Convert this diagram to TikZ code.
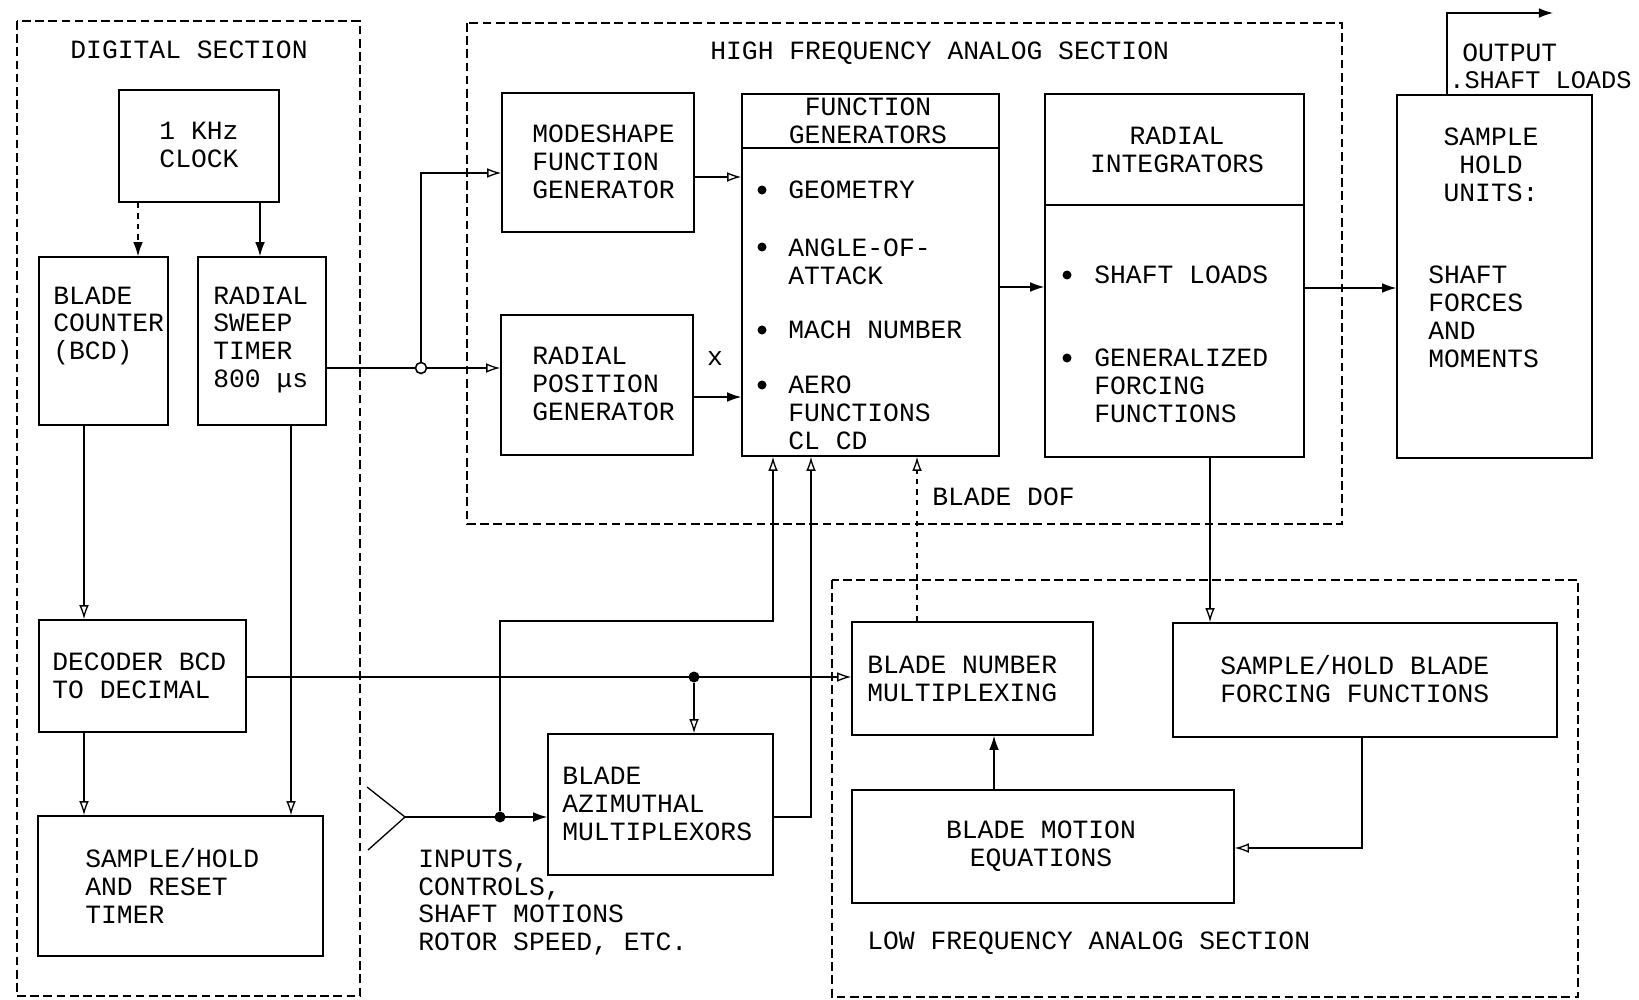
\documentclass[tikz,border=0pt]{standalone}
\usepackage{fontspec}
\setmainfont{Liberation Mono}
\usetikzlibrary{arrows.meta}
\begin{document}
\begin{tikzpicture}[x=0.02cm,y=-0.02cm,
  every node/.style={font=\fontsize{15}{15.9}\selectfont, inner sep=0pt},
  box/.style={draw, line width=0.85pt, inner sep=0pt},
  sect/.style={draw, line width=0.9pt, dash pattern=on 5pt off 2.5pt},
  wire/.style={line width=0.75pt},
  arr/.style={wire, -{Latex[length=8pt,width=5.5pt]}},
  oarr/.style={wire, -{Latex[open,length=8pt,width=5.5pt]}},
  txt/.style={align=left, anchor=west},
  ctxt/.style={align=center},
  bul/.style={circle, fill, minimum size=0.18cm},
  jdot/.style={circle, fill, minimum size=0.22cm},
  odot/.style={circle, draw, line width=0.9pt, fill=white, minimum size=0.22cm},
]
\useasboundingbox (0,0) rectangle (1639,1000);

% sections
\draw[sect] (17,21) rectangle (360,996);
\draw[sect] (467,23) rectangle (1342,524);
\draw[sect] (832,580) rectangle (1578,997);
\node[anchor=center] (tdig) at (189,50) {DIGITAL SECTION};
\node[anchor=west] (thf) at (710,53) {HIGH FREQUENCY ANALOG SECTION};
\node[anchor=west] (tlf) at (867,943) {LOW FREQUENCY ANALOG SECTION};

% boxes
\node[box, minimum width=160*0.02cm, minimum height=112*0.02cm] (clock) at (199,146) {};
\node[box, minimum width=129*0.02cm, minimum height=168*0.02cm] (bc) at (103.5,341) {};
\node[box, minimum width=128*0.02cm, minimum height=168*0.02cm] (sweep) at (262,341) {};
\node[box, minimum width=207*0.02cm, minimum height=112*0.02cm] (dec) at (142.5,676) {};
\node[box, minimum width=285*0.02cm, minimum height=140*0.02cm] (shr) at (180.5,886) {};
\node[box, minimum width=192*0.02cm, minimum height=139*0.02cm] (mode) at (598,162.5) {};
\node[box, minimum width=192*0.02cm, minimum height=140*0.02cm] (rpos) at (597,385) {};
\node[box, minimum width=257*0.02cm, minimum height=362*0.02cm] (fg) at (870.5,275) {};
\node[box, minimum width=259*0.02cm, minimum height=363*0.02cm] (ri) at (1174.5,275.5) {};
\node[box, minimum width=195*0.02cm, minimum height=363*0.02cm] (shu) at (1494.5,276.5) {};
\node[box, minimum width=225*0.02cm, minimum height=141*0.02cm] (mux) at (660.5,804.5) {};
\node[box, minimum width=241*0.02cm, minimum height=113*0.02cm] (bnm) at (972.5,678.5) {};
\node[box, minimum width=384*0.02cm, minimum height=114*0.02cm] (shf) at (1365,680) {};
\node[box, minimum width=382*0.02cm, minimum height=113*0.02cm] (bme) at (1043,846.5) {};

\draw[line width=0.85pt] (fg.west |- 0,148) -- (fg.east |- 0,148);
\draw[line width=0.85pt] (ri.west |- 0,205) -- (ri.east |- 0,205);

% box texts
\node[ctxt] (tclock) at (199,145) {1 KHz\\CLOCK};
\node[txt] (tbc) at (53,326) {BLADE\\COUNTER\\(BCD)};
\node[txt] (tsweep) at (213,340) {RADIAL\\SWEEP\\TIMER\\800 μs};
\node[txt] (tdec) at (52,676) {DECODER BCD\\TO DECIMAL};
\node[txt] (tshr) at (85,886) {SAMPLE/HOLD\\AND RESET\\TIMER};
\node[txt] (tmode) at (532,162) {MODESHAPE\\FUNCTION\\GENERATOR};
\node[txt] (trpos) at (532,384) {RADIAL\\POSITION\\GENERATOR};
\node[ctxt] (tfgh) at (868,121) {FUNCTION\\GENERATORS};
\node[bul] (b1) at (762,190) {};
\node[bul] (b2) at (762,247) {};
\node[bul] (b3) at (762,330) {};
\node[bul] (b4) at (762,385) {};
\node[txt] (tf1) at (788,190) {GEOMETRY};
\node[txt] (tf2) at (788,261.5) {ANGLE-OF-\\ATTACK};
\node[txt] (tf3) at (788,330) {MACH NUMBER};
\node[txt] (tf4) at (788,413) {AERO\\FUNCTIONS\\CL CD};
\node[ctxt] (trih) at (1177,150) {RADIAL\\INTEGRATORS};
\node[bul] (b5) at (1067,275) {};
\node[bul] (b6) at (1067,358) {};
\node[txt] (tr1) at (1094,275) {SHAFT LOADS};
\node[txt] (tr2) at (1094,385.5) {GENERALIZED\\FORCING\\FUNCTIONS};
\node[ctxt] (tshu) at (1491,164.5) {SAMPLE\\HOLD\\UNITS:};
\node[txt] (tshu2) at (1428,316.5) {SHAFT\\FORCES\\AND\\MOMENTS};
\node[txt] (tmux) at (562,804) {BLADE\\AZIMUTHAL\\MULTIPLEXORS};
\node[txt] (tbnm) at (867,679) {BLADE NUMBER\\MULTIPLEXING};
\node[txt] (tshf) at (1220,679.5) {SAMPLE/HOLD BLADE\\FORCING FUNCTIONS};
\node[ctxt] (tbme) at (1041,846) {BLADE MOTION\\EQUATIONS};

% free labels
\node (tx) at (715,359) {x};
\node[txt] (tdof) at (932,497) {BLADE DOF};
\node[anchor=west] (tout1) at (1462,53) {OUTPUT};
\node[anchor=west, font=\fontsize{14.4}{15.9}\selectfont] (tout2) at (1449,80) {.SHAFT LOADS};
\node[txt] (tin) at (418,902.5) {INPUTS,\\CONTROLS,\\SHAFT MOTIONS\\ROTOR SPEED, ETC.};

% coordinates
\coordinate (outend) at (1553,13);
\coordinate (ya) at (367,787);
\coordinate (yt) at (405,817);
\coordinate (yb) at (368,850);
\coordinate (c1) at (500,621);
\coordinate (c2) at (773,621);

% digital connectors
\draw[arr, dashed] (clock.south -| 138,0) -- (bc.north -| 138,0);
\draw[arr] (clock.south -| 260,0) -- (sweep.north -| 260,0);
\draw[oarr] (bc.south -| 84,0) -- (dec.north -| 84,0);
\draw[oarr] (dec.south -| 84,0) -- (shr.north -| 84,0);
\draw[oarr] (sweep.south -| 291,0) -- (shr.north -| 291,0);

% sweep to generators
\node[odot] (jn) at (421,368) {};
\draw[wire] (sweep.east |- jn) -- (jn);
\draw[oarr] (jn) -- (rpos.west |- jn);
\draw[oarr] (jn) |- (mode.west |- 0,173);
\draw[oarr] (mode.east |- 0,177) -- (fg.west |- 0,177);
\draw[arr] (rpos.east |- 0,397) -- (fg.west |- 0,397);
\draw[arr] (fg.east |- 0,287) -- (ri.west |- 0,287);
\draw[arr] (ri.east |- 0,288) -- (shu.west |- 0,288);
\draw[arr] (shu.north -| 1447,0) |- (outend);

% decoder line
\node[jdot] (d1) at (694,677) {};
\draw[oarr] (dec.east |- 0,677) -- (bnm.west |- 0,677);
\draw[oarr] (d1) -- (mux.north -| d1);

% inputs
\draw[wire] (ya) -- (yt) -- (yb);
\node[jdot] (d2) at (500,817) {};
\draw[arr] (yt) -- (mux.west |- yt);
\draw[oarr] (d2) -- (c1) -- (c2) -- (fg.south -| c2);
\draw[oarr] (mux.east |- 0,817) -| (fg.south -| 811,0);

% low frequency connectors
\draw[oarr, dashed] (bnm.north -| 917,0) -- (fg.south -| 917,0);
\draw[oarr] (ri.south -| 1210,0) -- (shf.north -| 1210,0);
\draw[oarr] (shf.south -| 1362,0) |- (bme.east |- 0,848);
\draw[arr] (bme.north -| 994,0) -- (bnm.south -| 994,0);
\end{tikzpicture}
\end{document}
